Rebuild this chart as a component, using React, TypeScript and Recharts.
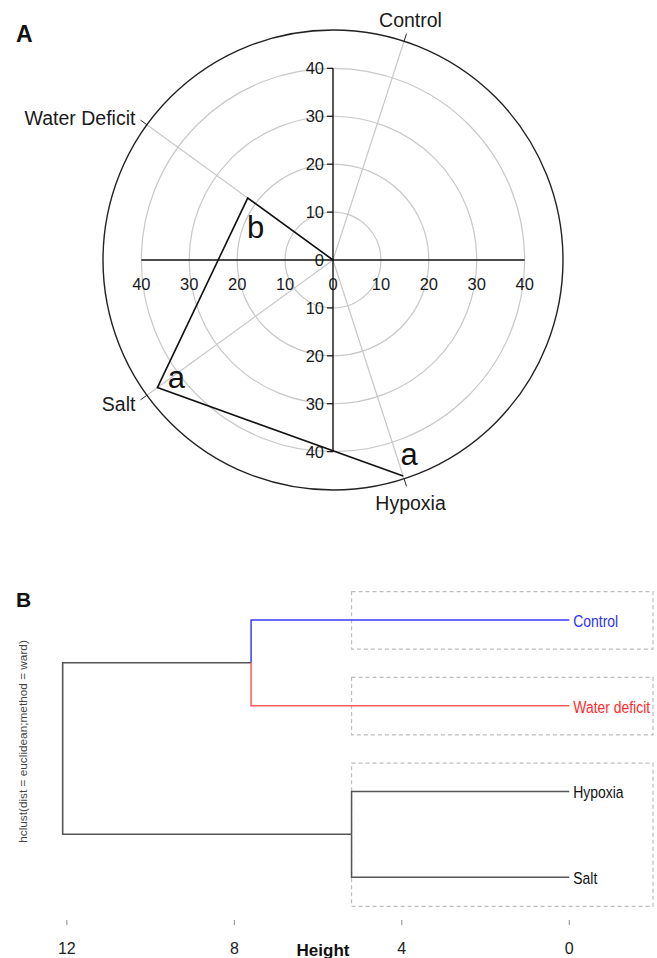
import React from 'react';
import {
  RadarChart,
  Radar,
  PolarGrid,
  PolarAngleAxis,
  PolarRadiusAxis,
  ScatterChart,
  Scatter,
  XAxis,
  YAxis,
  ReferenceArea,
  Label,
} from 'recharts';

// ---- Panel A: response per stress treatment (polar plot) ----
// listed clockwise from the lower right spoke
const treatments = ['Hypoxia', 'Salt', 'Water Deficit', 'Control'];
const responseValues = [47.4, 45.3, 22, 0];
const significance = ['a', 'a', 'b', ''];
const radiusTicks = [0, 10, 20, 30, 40];
const radiusMax = 47.5;

// ---- Panel B: hierarchical clustering of the treatments ----
const leaves = ['Control', 'Water deficit', 'Hypoxia', 'Salt'];
const leafColors = ['#2e2eff', '#ff2b2b', '#111111', '#111111'];
const branchColors = ['#3a3aff', '#ff5a5a', '#555555', '#555555'];
const mergeControlWater = 7.6;
const mergeHypoxiaSalt = 5.2;
const mergeRoot = 12.1;
const heightTicks = [12, 8, 4, 0];
const clusterGroups = [[0], [1], [2, 3]];

const FONT = "'Liberation Sans', Arial, sans-serif";

const radarData = treatments.map((name, i) => ({
  name,
  value: responseValues[i],
  letter: significance[i],
}));

// label placement around the rim, relative to the end of each tick
const treatmentLabelStyle: Record<string, { dx: number; dy: number; anchor: string }> = {
  Control: { dx: 4, dy: -14, anchor: 'middle' },
  'Water Deficit': { dx: -5, dy: -2, anchor: 'end' },
  Salt: { dx: -5, dy: 4, anchor: 'end' },
  Hypoxia: { dx: 4, dy: 17, anchor: 'middle' },
};

// letter placement relative to each data point
const letterOffset: Record<string, { dx: number; dy: number }> = {
  Control: { dx: 0, dy: 0 },
  'Water Deficit': { dx: 8, dy: 29 },
  Salt: { dx: 19, dy: -10 },
  Hypoxia: { dx: 6, dy: -22 },
};

const renderTreatmentTick = (props: any) => {
  const { x, y, payload } = props;
  const s = treatmentLabelStyle[payload.value] || { dx: 0, dy: 0, anchor: 'middle' };
  return (
    <text
      x={x + s.dx}
      y={y + s.dy}
      textAnchor={s.anchor as any}
      dominantBaseline="central"
      fontFamily={FONT}
      fontSize={19.5}
      fill="#1a1a1a"
    >
      {payload.value}
    </text>
  );
};

const makeRadiusTick = (side: 'up' | 'down' | 'left' | 'right') => (props: any) => {
  const { x, y, payload } = props;
  const v = payload.value;
  if (v === 0 && (side === 'down' || side === 'left')) return <g />;
  if (side === 'up' || side === 'down') {
    return (
      <g>
        {v !== 0 && <line x1={x - 6} y1={y} x2={x} y2={y} stroke="#111" strokeWidth={1.2} />}
        <text
          x={x - 9}
          y={y}
          textAnchor="end"
          dominantBaseline="central"
          fontFamily={FONT}
          fontSize={16.5}
          fill="#1a1a1a"
        >
          {v}
        </text>
      </g>
    );
  }
  return (
    <text
      x={x}
      y={y + 24}
      textAnchor="middle"
      dominantBaseline="central"
      fontFamily={FONT}
      fontSize={16.5}
      fill="#1a1a1a"
    >
      {v}
    </text>
  );
};

// open trace from point to point, with the significance letters
const renderTrace = (props: any) => {
  const pts = (props.points || []).filter(
    (p: any) => Number.isFinite(p.x) && Number.isFinite(p.y)
  );
  const d = pts.map((p: any, i: number) => `${i ? 'L' : 'M'}${p.x},${p.y}`).join('');
  return (
    <g>
      <path d={d} fill="none" stroke="#111" strokeWidth={1.6} strokeLinejoin="miter" />
      {pts.map((p: any, i: number) => {
        const name = p.payload?.name;
        const off = letterOffset[name] || { dx: 0, dy: 0 };
        return (
          <text
            key={i}
            x={p.x + off.dx}
            y={p.y + off.dy}
            textAnchor="middle"
            dominantBaseline="central"
            fontFamily={FONT}
            fontSize={31}
            fill="#111"
          >
            {p.payload?.letter}
          </text>
        );
      })}
    </g>
  );
};

// ---- dendrogram geometry built from the merge heights ----
const leafY = leaves.map((_, i) => i + 1);
const jointTop = (leafY[0] + leafY[1]) / 2;
const jointBottom = (leafY[2] + leafY[3]) / 2;
const leafMerge = [mergeControlWater, mergeControlWater, mergeHypoxiaSalt, mergeHypoxiaSalt];
const leafJoint = [jointTop, jointTop, jointBottom, jointBottom];

const branches = leaves.map((name, i) => ({
  name,
  color: branchColors[i],
  points: [
    { x: 0, y: leafY[i] },
    { x: leafMerge[i], y: leafY[i] },
    { x: leafMerge[i], y: leafJoint[i] },
  ],
}));

const rootBranch = [
  { x: mergeControlWater, y: jointTop },
  { x: mergeRoot, y: jointTop },
  { x: mergeRoot, y: jointBottom },
  { x: mergeHypoxiaSalt, y: jointBottom },
];

const leafPoints = leaves.map((name, i) => ({ x: 0, y: leafY[i], name, color: leafColors[i] }));

const clusterBoxes = clusterGroups.map((g) => ({
  y1: leafY[g[0]] - 0.33,
  y2: leafY[g[g.length - 1]] + 0.34,
}));

const noSymbol = () => <g />;

// condensed leaf labels
const renderLeafLabel = (props: any) => {
  const { cx, cy, payload } = props;
  return (
    <text
      transform={`translate(${cx + 4}, ${cy + 1}) scale(0.82, 1)`}
      x={0}
      y={0}
      dominantBaseline="central"
      fontFamily={FONT}
      fontSize={17}
      fill={payload.color}
    >
      {payload.name}
    </text>
  );
};

const renderHeightTick = (props: any) => {
  const { x, y, payload } = props;
  return (
    <text
      x={x}
      y={y + 21}
      textAnchor="middle"
      dominantBaseline="central"
      fontFamily={FONT}
      fontSize={16}
      fill="#222"
    >
      {payload.value}
    </text>
  );
};

const renderHeightTitle = (props: any) => {
  const vb = props.viewBox || { x: 0, y: 0, width: 0, height: 0 };
  return (
    <text
      x={vb.x + vb.width / 2 - 16}
      y={vb.y + 30}
      textAnchor="middle"
      dominantBaseline="central"
      fontFamily={FONT}
      fontWeight="bold"
      fontSize={17}
      fill="#111"
    >
      Height
    </text>
  );
};

const renderYTitle = (props: any) => {
  const vb = props.viewBox || { x: 0, y: 0, width: 0, height: 0 };
  const x = vb.x + 23;
  const y = vb.y + vb.height / 2 - 7;
  return (
    <text
      x={x}
      y={y}
      transform={`rotate(-90, ${x}, ${y})`}
      textAnchor="middle"
      dominantBaseline="central"
      fontFamily={FONT}
      fontSize={11.8}
      fill="#444"
    >
      hclust(dist = euclidean;method = ward)
    </text>
  );
};

const panelLetter = (text: string, left: number, top: number, size: number) => (
  <div
    style={{
      position: 'absolute',
      left,
      top,
      fontFamily: FONT,
      fontWeight: 'bold',
      fontSize: size,
      lineHeight: `${size}px`,
      color: '#111',
    }}
  >
    {text}
  </div>
);

export default function App() {
  return (
    <div
      style={{
        position: 'absolute',
        left: 0,
        top: 0,
        width: 657,
        height: 958,
        overflow: 'hidden',
        background: '#fff',
      }}
    >
      {panelLetter('A', 16, 23, 23)}
      {panelLetter('B', 16, 589, 21)}

      <div style={{ position: 'absolute', left: 0, top: 0 }}>
        <RadarChart
          width={657}
          height={540}
          cx={333}
          cy={260}
          innerRadius={0}
          outerRadius={230}
          startAngle={288}
          endAngle={0}
          data={radarData}
          margin={{ top: 0, right: 0, bottom: 0, left: 0 }}
        >
          <PolarGrid gridType="circle" stroke="#c8c8c8" strokeWidth={1.2} />
          <PolarAngleAxis
            dataKey="name"
            axisLineType="circle"
            axisLine={{ stroke: '#222', strokeWidth: 1.4 }}
            tickLine={{ stroke: '#222', strokeWidth: 1 }}
            tickSize={8}
            tick={renderTreatmentTick}
          />
          <PolarRadiusAxis
            radiusAxisId={0}
            angle={90}
            type="number"
            domain={[0, radiusMax]}
            ticks={radiusTicks}
            allowDataOverflow
            axisLine={{ stroke: '#111', strokeWidth: 1.4 }}
            tick={makeRadiusTick('up')}
          />
          <PolarRadiusAxis
            radiusAxisId="down"
            angle={270}
            type="number"
            domain={[0, radiusMax]}
            ticks={radiusTicks}
            allowDataOverflow
            axisLine={{ stroke: '#111', strokeWidth: 1.4 }}
            tick={makeRadiusTick('down')}
          />
          <PolarRadiusAxis
            radiusAxisId="left"
            angle={180}
            type="number"
            domain={[0, radiusMax]}
            ticks={radiusTicks}
            allowDataOverflow
            axisLine={{ stroke: '#111', strokeWidth: 1.4 }}
            tick={makeRadiusTick('left')}
          />
          <PolarRadiusAxis
            radiusAxisId="right"
            angle={0}
            type="number"
            domain={[0, radiusMax]}
            ticks={radiusTicks}
            allowDataOverflow
            axisLine={{ stroke: '#111', strokeWidth: 1.4 }}
            tick={makeRadiusTick('right')}
          />
          <Radar
            dataKey="value"
            stroke="#111"
            fill="none"
            isAnimationActive={false}
            shape={renderTrace}
          />
        </RadarChart>
      </div>

      <div style={{ position: 'absolute', left: 0, top: 560 }}>
        <ScatterChart width={657} height={398} margin={{ top: 17, right: 4, bottom: 8, left: 0 }}>
          <XAxis
            type="number"
            dataKey="x"
            domain={[-2, 13]}
            reversed
            allowDataOverflow
            ticks={heightTicks}
            interval={0}
            axisLine={false}
            tickLine={{ stroke: '#888' }}
            tickSize={5}
            height={30}
            tick={renderHeightTick}
          >
            <Label content={renderHeightTitle} />
          </XAxis>
          <YAxis
            type="number"
            dataKey="y"
            domain={[0.5, 4.5]}
            reversed
            allowDataOverflow
            width={25}
            tick={false}
            axisLine={false}
            tickLine={false}
          >
            <Label content={renderYTitle} />
          </YAxis>
          {clusterBoxes.map((b, i) => (
            <ReferenceArea
              key={`box-${i}`}
              x1={mergeHypoxiaSalt}
              x2={-2}
              y1={b.y1}
              y2={b.y2}
              fill="none"
              stroke="#bdbdbd"
              strokeWidth={1.2}
              strokeDasharray="4 3"
              ifOverflow="visible"
            />
          ))}
          <Scatter
            data={rootBranch}
            fill="#555"
            line={{ stroke: '#555', strokeWidth: 1.6 }}
            lineType="joint"
            shape={noSymbol}
            isAnimationActive={false}
          />
          {branches.map((b) => (
            <Scatter
              key={b.name}
              data={b.points}
              fill={b.color}
              line={{ stroke: b.color, strokeWidth: 1.5 }}
              lineType="joint"
              shape={noSymbol}
              isAnimationActive={false}
            />
          ))}
          <Scatter data={leafPoints} shape={renderLeafLabel} isAnimationActive={false} />
        </ScatterChart>
      </div>
    </div>
  );
}
